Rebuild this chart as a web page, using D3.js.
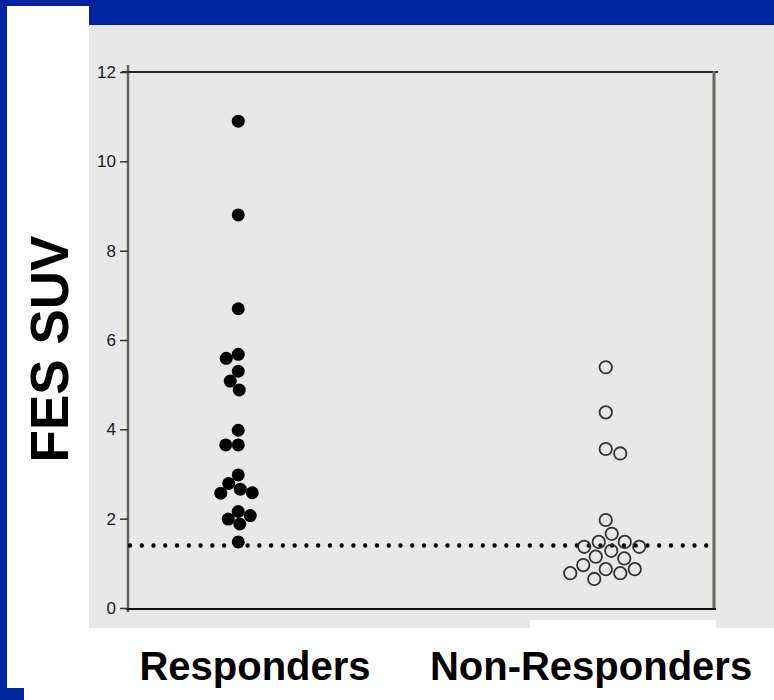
<!DOCTYPE html>
<html>
<head>
<meta charset="utf-8">
<script src="https://cdn.jsdelivr.net/npm/d3@7"></script>
<style>
  body { margin: 0; background: #fff; }
  svg { display: block; font-family: "Liberation Sans", Arial, sans-serif; }
</style>
</head>
<body>
<svg id="chart" width="774" height="700"></svg>
<script>
// data
const groups = ["Responders", "Non-Responders"];
const responders = [10.9, 8.8, 6.7, 5.68, 5.59, 5.3, 5.08, 4.88, 3.98, 3.65, 3.65,
                    2.98, 2.79, 2.66, 2.58, 2.57, 2.16, 2.07, 1.99, 1.88, 1.48];
const nonResponders = [5.39, 4.38, 3.56, 3.46, 1.97, 1.66, 1.48, 1.48, 1.37, 1.37,
                       1.28, 1.15, 1.11, 0.96, 0.87, 0.87, 0.78, 0.78, 0.65];
const yTicks = [0, 2, 4, 6, 8, 10, 12];
const cutoff = 1.4;
const yLabel = "FES SUV";

const blue = "#0023a0";
const panel = "#e8e8e8";

let svg = d3.select("#chart");

// slide frame
svg.append("rect").attr("x", 0).attr("y", 0).attr("width", 774).attr("height", 25).attr("fill", blue);
svg.append("rect").attr("x", 0).attr("y", 0).attr("width", 7).attr("height", 700).attr("fill", blue);
svg.append("rect").attr("x", 7).attr("y", 6).attr("width", 82).attr("height", 694).attr("fill", "#fff");
svg.append("rect").attr("x", 0).attr("y", 688).attr("width", 24).attr("height", 12).attr("fill", blue);
svg.append("rect").attr("x", 89).attr("y", 25).attr("width", 685).attr("height", 603).attr("fill", panel);
svg.append("rect").attr("x", 530).attr("y", 620).attr("width", 186).attr("height", 8).attr("fill", "#fff");

let yScale = d3.scaleLinear()
    .domain([0, 12])
    .range([608, 72]);

let xScale = d3.scalePoint()
    .domain(groups)
    .range([128, 716])
    .padding(0.3);

// plot frame
svg.append("line").attr("x1", 128).attr("x2", 128).attr("y1", 65).attr("y2", 612)
    .attr("stroke", "#66665a").attr("stroke-width", 2.5);
svg.append("line").attr("x1", 122).attr("x2", 718).attr("y1", 72).attr("y2", 72)
    .attr("stroke", "#2a2a2a").attr("stroke-width", 2);
svg.append("line").attr("x1", 714).attr("x2", 714).attr("y1", 71).attr("y2", 609)
    .attr("stroke", "#6a6a5e").attr("stroke-width", 3);
svg.append("line").attr("x1", 126).attr("x2", 716).attr("y1", 609).attr("y2", 609)
    .attr("stroke", "#111").attr("stroke-width", 1.8);

// y axis
let yAxis = d3.axisLeft(yScale)
    .tickValues(yTicks)
    .tickSize(8)
    .tickPadding(4);
let gy = svg.append("g")
    .attr("transform", "translate(128,0)")
    .call(yAxis);
gy.select(".domain").remove();
gy.selectAll(".tick line").attr("stroke", "#333").attr("stroke-width", 1.5);
gy.selectAll(".tick text")
    .attr("fill", "#1a1a1a")
    .style("font-size", "17px")
    .style("font-family", "'Liberation Sans', Arial, sans-serif");

// simple beeswarm: put each point as close to the group centre as it fits
function swarm(values, cx, minD) {
    let placed = [];
    return values.map(function (v, i) {
        let py = yScale(v);
        let order = i % 2 ? [1, -1] : [-1, 1];
        for (let d = 0; d < 120; d += 0.5) {
            for (let s of order) {
                let px = cx + s * d;
                let ok = placed.every(p => (p.x - px) ** 2 + (p.y - py) ** 2 >= minD * minD);
                if (ok) {
                    placed.push({x: px, y: py});
                    return {v: v, x: px, y: py};
                }
            }
        }
        return {v: v, x: cx, y: py};
    });
}

let respPts = swarm(responders, xScale(groups[0]), 12.5);
let nonPts = swarm(nonResponders, xScale(groups[1]), 15);

// cutoff line (dotted)
svg.append("line")
    .attr("x1", 130).attr("x2", 707)
    .attr("y1", yScale(cutoff)).attr("y2", yScale(cutoff))
    .attr("stroke", "#000")
    .attr("stroke-width", 4.4)
    .attr("stroke-linecap", "round")
    .attr("stroke-dasharray", "0 11.76");

svg.append("g").selectAll("circle")
    .data(respPts)
    .enter().append("circle")
    .attr("cx", d => d.x)
    .attr("cy", d => d.y)
    .attr("r", 6.5)
    .attr("fill", "#000");

svg.append("g").selectAll("circle")
    .data(nonPts)
    .enter().append("circle")
    .attr("cx", d => d.x)
    .attr("cy", d => d.y)
    .attr("r", 6.2)
    .attr("fill", "none")
    .attr("stroke", "#333")
    .attr("stroke-width", 1.8);

// titles
svg.append("text")
    .attr("transform", "translate(68,349) rotate(-90)")
    .attr("text-anchor", "middle")
    .style("font-size", "53px")
    .style("font-weight", "bold")
    .attr("fill", "#000")
    .text(yLabel);

let labelX = [255, 591];
svg.append("g").selectAll("text")
    .data(groups)
    .enter().append("text")
    .attr("x", (d, i) => labelX[i])
    .attr("y", 680)
    .attr("text-anchor", "middle")
    .style("font-size", "40px")
    .style("font-weight", "bold")
    .attr("fill", "#000")
    .text(d => d);
</script>
</body>
</html>
